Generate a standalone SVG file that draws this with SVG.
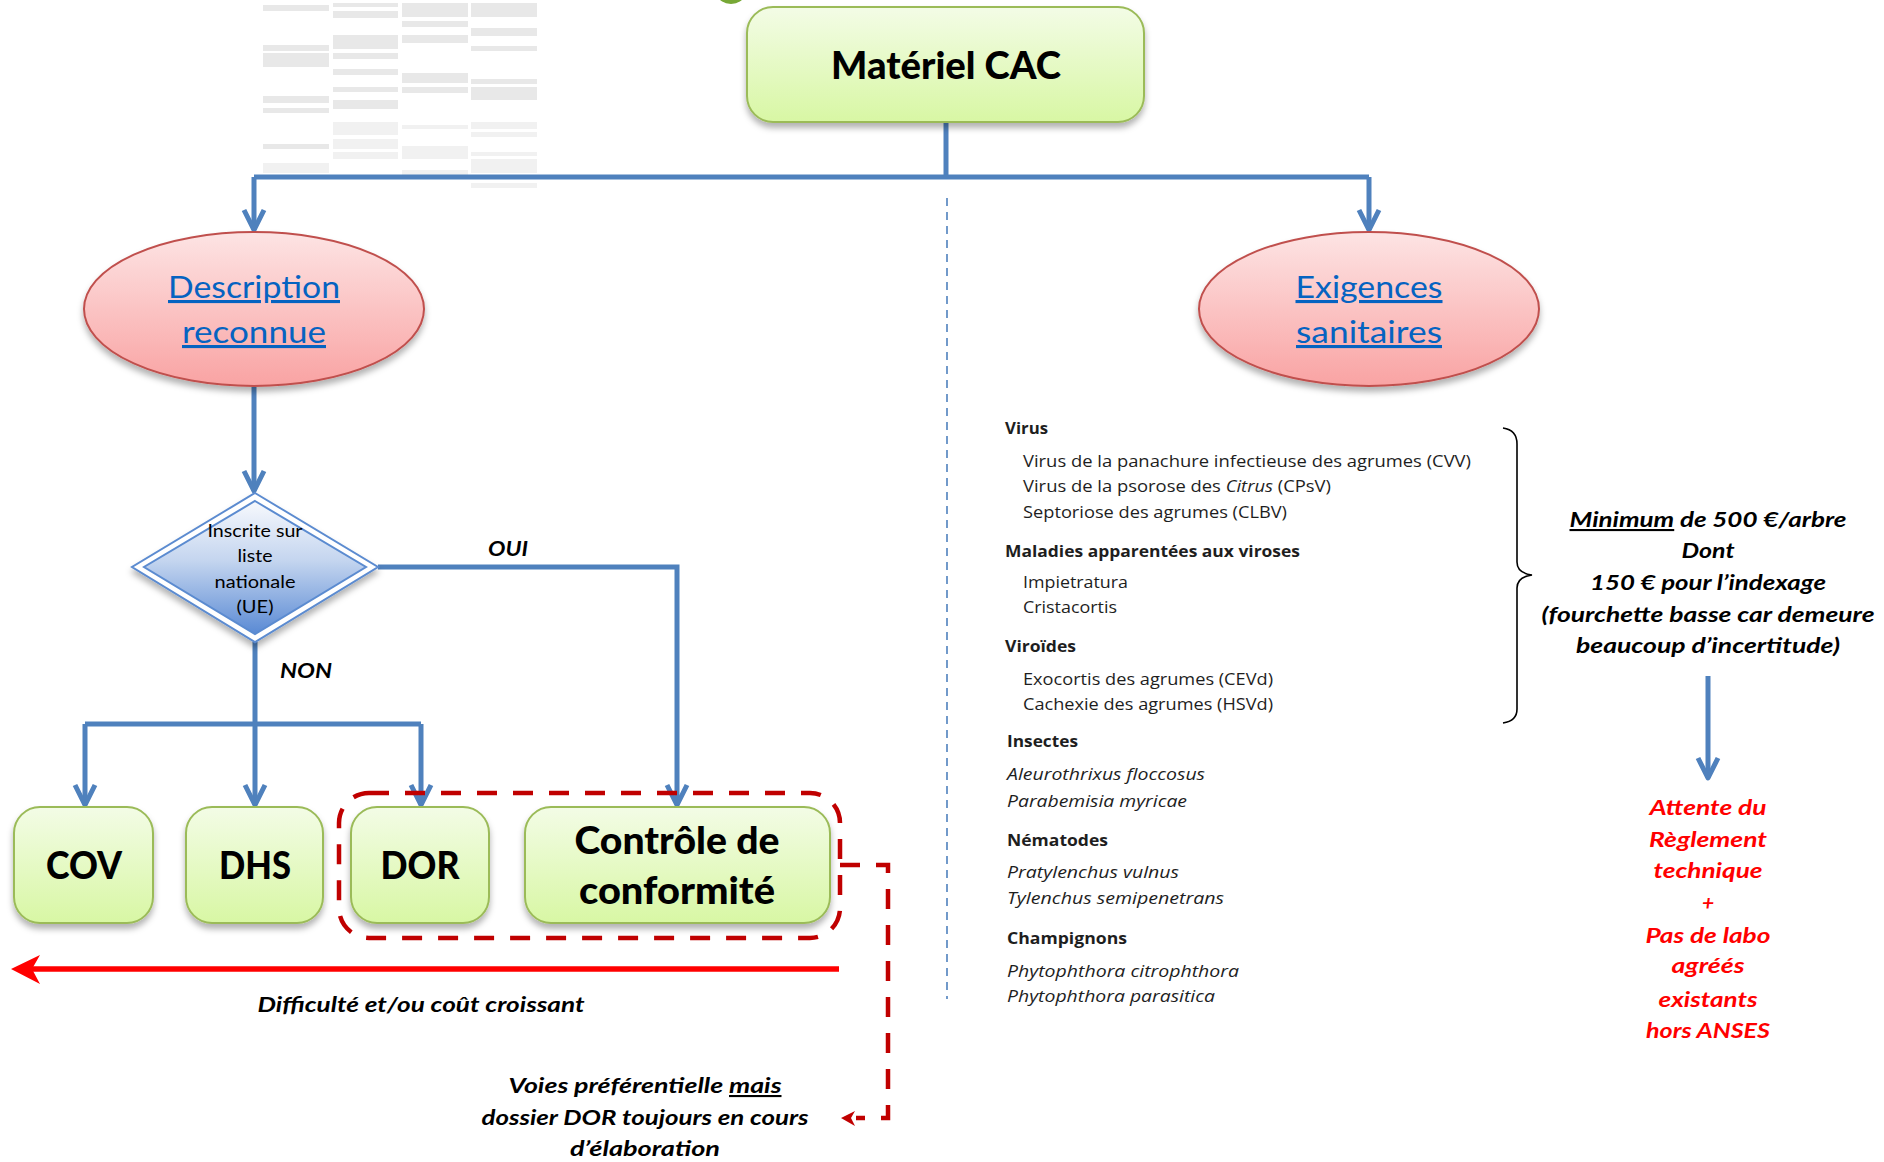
<svg xmlns="http://www.w3.org/2000/svg" width="1884" height="1162" viewBox="0 0 1884 1162">
<defs>
<style>
text{font-family:Lato,"Liberation Sans","DejaVu Sans",sans-serif}
.conn{fill:none;stroke:#4f81bd;stroke-width:5}
.tb{fill:#e8e8e8}
.tl{fill:#f1f1f1}
.box{fill:url(#gGreen);stroke:#9bbb59;stroke-width:2;filter:url(#sh)}
.ell{fill:url(#gPink);stroke:#c0504d;stroke-width:2;filter:url(#sh)}
.big{font-weight:900;font-size:37px;fill:#000;text-anchor:middle}
.link{font-size:31px;fill:#0563c1;text-anchor:middle;text-decoration:underline}
.bi{font-weight:700;font-style:italic;font-size:21px;fill:#000}
.red{font-weight:700;font-style:italic;font-size:21px;fill:#ff0000;text-anchor:middle}
.lh,.li,.lit{font-family:"Open Sans","Noto Sans","Liberation Sans",sans-serif;font-size:16.5px;fill:#1e1e1e}
.lh{font-weight:700}
.lit{font-style:italic}
</style>
<linearGradient id="gGreen" x1="0" y1="0" x2="0" y2="1">
<stop offset="0" stop-color="#f3fce6"/><stop offset="1" stop-color="#d8f7a4"/>
</linearGradient>
<linearGradient id="gPink" x1="0" y1="0" x2="0" y2="1">
<stop offset="0" stop-color="#fde4e4"/><stop offset="1" stop-color="#f9a3a3"/>
</linearGradient>
<linearGradient id="gBlue" x1="0" y1="0" x2="0" y2="1">
<stop offset="0" stop-color="#f7f9fd"/><stop offset="0.45" stop-color="#c4d5ef"/><stop offset="1" stop-color="#5a8ad4"/>
</linearGradient>
<filter id="sh" x="-20%" y="-20%" width="140%" height="150%">
<feDropShadow dx="0" dy="5" stdDeviation="3" flood-color="#000" flood-opacity="0.3"/>
</filter>
<marker id="chev" markerUnits="userSpaceOnUse" viewBox="-24 -14 28 28" refX="0" refY="0" markerWidth="28" markerHeight="28" orient="auto">
<path d="M-20,-10 L0,0 L-20,10" fill="none" stroke="#4f81bd" stroke-width="5" stroke-linejoin="round"/>
</marker>
</defs>
<rect width="1884" height="1162" fill="#fff"/>

<g id="faded-table">
<rect class="tb" x="263" y="5" width="66" height="6"/><rect class="tb" x="263" y="45" width="66" height="6"/><rect class="tb" x="263" y="53" width="66" height="14"/><rect class="tb" x="263" y="96" width="66" height="7"/><rect class="tb" x="263" y="108" width="66" height="5"/><rect class="tb" x="263" y="144" width="66" height="5"/><rect class="tl" x="263" y="163" width="66" height="10"/>
<rect class="tb" x="333" y="3" width="65" height="4"/><rect class="tb" x="333" y="11" width="65" height="7"/><rect class="tb" x="333" y="35" width="65" height="14"/><rect class="tb" x="333" y="53" width="65" height="6"/><rect class="tb" x="333" y="69" width="65" height="6"/><rect class="tb" x="333" y="87" width="65" height="5"/><rect class="tb" x="333" y="100" width="65" height="9"/><rect class="tl" x="333" y="122" width="65" height="13"/><rect class="tl" x="333" y="139" width="65" height="10"/><rect class="tl" x="333" y="152" width="65" height="7"/>
<rect class="tb" x="402" y="3" width="66" height="14"/><rect class="tb" x="402" y="21" width="66" height="6"/><rect class="tb" x="402" y="35" width="66" height="8"/><rect class="tb" x="402" y="73" width="66" height="10"/><rect class="tb" x="402" y="87" width="66" height="6"/><rect class="tl" x="402" y="125" width="66" height="4"/><rect class="tl" x="402" y="146" width="66" height="13"/><rect class="tl" x="402" y="170" width="66" height="5"/>
<rect class="tb" x="471" y="3" width="66" height="14"/><rect class="tb" x="471" y="28" width="66" height="8"/><rect class="tb" x="471" y="46" width="66" height="5"/><rect class="tb" x="471" y="79" width="66" height="5"/><rect class="tb" x="471" y="87" width="66" height="13"/><rect class="tl" x="471" y="122" width="66" height="7"/><rect class="tl" x="471" y="132" width="66" height="5"/><rect class="tl" x="471" y="152" width="66" height="4"/><rect class="tl" x="471" y="159" width="66" height="14"/><rect class="tl" x="471" y="183" width="66" height="5"/>
</g>

<ellipse id="top-blob" cx="731" cy="-5" rx="13" ry="9" fill="#77a836"/>

<g id="connectors">
<path class="conn" d="M946,122 V177"/>
<path class="conn" d="M254,177 H1369"/>
<path class="conn" d="M254,177 V230" marker-end="url(#chev)"/>
<path class="conn" d="M1369,177 V230" marker-end="url(#chev)"/>
<path class="conn" d="M254,387 V491" marker-end="url(#chev)"/>
<path class="conn" d="M378,567 H677 V805" marker-end="url(#chev)"/>
<path class="conn" d="M255,642 V805" marker-end="url(#chev)"/>
<path class="conn" d="M85,724 H421"/>
<path class="conn" d="M85,724 V805" marker-end="url(#chev)"/>
<path class="conn" d="M421,724 V805" marker-end="url(#chev)"/>
<path class="conn" d="M1708,676 V778" marker-end="url(#chev)"/>
<path d="M947,198 V999" fill="none" stroke="#4f81bd" stroke-width="1.6" stroke-dasharray="8 6"/>
<path d="M839,969 H32" fill="none" stroke="#ff0000" stroke-width="5.5"/>
<polygon points="11,969 40,955 32,969 40,984" fill="#ff0000"/>
<path d="M840,865 H888 V1118 H856" fill="none" stroke="#c00000" stroke-width="4.5" stroke-dasharray="20 16"/>
<polygon points="841,1118 855,1111 851,1118 855,1126" fill="#c00000"/>
</g>

<g id="node-materiel">
<rect class="box" x="747" y="7" width="397" height="115" rx="26"/>
<text class="big" x="946" y="79" textLength="230" lengthAdjust="spacingAndGlyphs">Matériel CAC</text>
</g>

<g id="node-description">
<ellipse class="ell" cx="254" cy="309" rx="170" ry="77"/>
<text class="link" x="254" y="298" textLength="172" lengthAdjust="spacingAndGlyphs">Description</text>
<text class="link" x="254" y="343" textLength="144" lengthAdjust="spacingAndGlyphs">reconnue</text>
</g>

<g id="node-exigences">
<ellipse class="ell" cx="1369" cy="309" rx="170" ry="77"/>
<text class="link" x="1369" y="298" textLength="147" lengthAdjust="spacingAndGlyphs">Exigences</text>
<text class="link" x="1369" y="343" textLength="146" lengthAdjust="spacingAndGlyphs">sanitaires</text>
</g>

<g id="node-decision">
<polygon points="255,493 378,567 255,642 132,567" fill="#fff" stroke="#5b8bd0" stroke-width="2" filter="url(#sh)"/>
<polygon points="255,501 366,567 255,634 144,567" fill="url(#gBlue)" stroke="#5b8bd0" stroke-width="2"/>
<g font-size="17.5" fill="#000" text-anchor="middle">
<text x="255" y="537" textLength="95" lengthAdjust="spacingAndGlyphs">Inscrite sur</text>
<text x="255" y="562" textLength="35" lengthAdjust="spacingAndGlyphs">liste</text>
<text x="255" y="588" textLength="81" lengthAdjust="spacingAndGlyphs">nationale</text>
<text x="255" y="613" textLength="37" lengthAdjust="spacingAndGlyphs">(UE)</text>
</g>
</g>

<text class="bi" x="488" y="556" textLength="40" lengthAdjust="spacingAndGlyphs">OUI</text>
<text class="bi" x="280" y="678" textLength="52" lengthAdjust="spacingAndGlyphs">NON</text>

<g id="node-cov">
<rect class="box" x="14" y="807" width="139" height="116" rx="26"/>
<text class="big" x="84" y="879" textLength="76" lengthAdjust="spacingAndGlyphs">COV</text>
</g>
<g id="node-dhs">
<rect class="box" x="186" y="807" width="137" height="116" rx="26"/>
<text class="big" x="255" y="879" textLength="72" lengthAdjust="spacingAndGlyphs">DHS</text>
</g>
<g id="node-dor">
<rect class="box" x="351" y="807" width="138" height="116" rx="26"/>
<text class="big" x="420" y="879" textLength="79" lengthAdjust="spacingAndGlyphs">DOR</text>
</g>
<g id="node-controle">
<rect class="box" x="525" y="807" width="305" height="116" rx="26"/>
<text class="big" x="677" y="854" textLength="205" lengthAdjust="spacingAndGlyphs">Contrôle de</text>
<text class="big" x="677" y="904" textLength="196" lengthAdjust="spacingAndGlyphs">conformité</text>
</g>

<rect id="group-preferential" x="339" y="793" width="501" height="145" rx="30" fill="none" stroke="#c00000" stroke-width="4.5" stroke-dasharray="20 16"/>

<text class="bi" x="421" y="1012" text-anchor="middle" textLength="327" lengthAdjust="spacingAndGlyphs">Difficulté et/ou coût croissant</text>

<g id="note-voies" text-anchor="middle">
<text class="bi" x="645" y="1093" textLength="273" lengthAdjust="spacingAndGlyphs">Voies préférentielle <tspan text-decoration="underline">mais</tspan></text>
<text class="bi" x="645" y="1125" textLength="327" lengthAdjust="spacingAndGlyphs">dossier DOR toujours en cours</text>
<text class="bi" x="645" y="1156" textLength="150" lengthAdjust="spacingAndGlyphs">d’élaboration</text>
</g>

<g id="list-sanitaire">
<text class="lh" x="1005" y="434" textLength="43" lengthAdjust="spacingAndGlyphs">Virus</text>
<text class="li" x="1023" y="467" textLength="448" lengthAdjust="spacingAndGlyphs">Virus de la panachure infectieuse des agrumes (CVV)</text>
<text class="li" x="1023" y="492" textLength="308" lengthAdjust="spacingAndGlyphs">Virus de la psorose des <tspan font-style="italic">Citrus</tspan> (CPsV)</text>
<text class="li" x="1023" y="518" textLength="264" lengthAdjust="spacingAndGlyphs">Septoriose des agrumes (CLBV)</text>
<text class="lh" x="1005" y="557" textLength="295" lengthAdjust="spacingAndGlyphs">Maladies apparentées aux viroses</text>
<text class="li" x="1023" y="588" textLength="105" lengthAdjust="spacingAndGlyphs">Impietratura</text>
<text class="li" x="1023" y="613" textLength="94" lengthAdjust="spacingAndGlyphs">Cristacortis</text>
<text class="lh" x="1005" y="652" textLength="71" lengthAdjust="spacingAndGlyphs">Viroïdes</text>
<text class="li" x="1023" y="685" textLength="250" lengthAdjust="spacingAndGlyphs">Exocortis des agrumes (CEVd)</text>
<text class="li" x="1023" y="710" textLength="250" lengthAdjust="spacingAndGlyphs">Cachexie des agrumes (HSVd)</text>
<text class="lh" x="1007" y="747" textLength="71" lengthAdjust="spacingAndGlyphs">Insectes</text>
<text class="lit" x="1007" y="780" textLength="198" lengthAdjust="spacingAndGlyphs">Aleurothrixus floccosus</text>
<text class="lit" x="1007" y="807" textLength="180" lengthAdjust="spacingAndGlyphs">Parabemisia myricae</text>
<text class="lh" x="1007" y="846" textLength="101" lengthAdjust="spacingAndGlyphs">Nématodes</text>
<text class="lit" x="1007" y="878" textLength="172" lengthAdjust="spacingAndGlyphs">Pratylenchus vulnus</text>
<text class="lit" x="1007" y="904" textLength="217" lengthAdjust="spacingAndGlyphs">Tylenchus semipenetrans</text>
<text class="lh" x="1007" y="944" textLength="120" lengthAdjust="spacingAndGlyphs">Champignons</text>
<text class="lit" x="1007" y="977" textLength="232" lengthAdjust="spacingAndGlyphs">Phytophthora citrophthora</text>
<text class="lit" x="1007" y="1002" textLength="208" lengthAdjust="spacingAndGlyphs">Phytophthora parasitica</text>
</g>

<path id="brace" d="M1503,428 Q1517,430 1517,444 V562 Q1517,573 1532,575 Q1517,577 1517,588 V709 Q1517,721 1503,723" fill="none" stroke="#000" stroke-width="1.6"/>

<g id="note-cout" text-anchor="middle">
<text class="bi" x="1708" y="527" textLength="277" lengthAdjust="spacingAndGlyphs"><tspan text-decoration="underline">Minimum</tspan> de 500 €/arbre</text>
<text class="bi" x="1708" y="558" textLength="53" lengthAdjust="spacingAndGlyphs">Dont</text>
<text class="bi" x="1708" y="590" textLength="236" lengthAdjust="spacingAndGlyphs">150 € pour l’indexage</text>
<text class="bi" x="1708" y="622" textLength="333" lengthAdjust="spacingAndGlyphs">(fourchette basse car demeure</text>
<text class="bi" x="1708" y="653" textLength="264" lengthAdjust="spacingAndGlyphs">beaucoup d’incertitude)</text>
</g>

<g id="note-attente">
<text class="red" x="1708" y="815" textLength="117" lengthAdjust="spacingAndGlyphs">Attente du</text>
<text class="red" x="1708" y="847" textLength="118" lengthAdjust="spacingAndGlyphs">Règlement</text>
<text class="red" x="1708" y="878" textLength="109" lengthAdjust="spacingAndGlyphs">technique</text>
<text class="red" x="1708" y="910">+</text>
<text class="red" x="1708" y="943" textLength="125" lengthAdjust="spacingAndGlyphs">Pas de labo</text>
<text class="red" x="1708" y="973" textLength="73" lengthAdjust="spacingAndGlyphs">agréés</text>
<text class="red" x="1708" y="1007" textLength="99" lengthAdjust="spacingAndGlyphs">existants</text>
<text class="red" x="1708" y="1038" textLength="124" lengthAdjust="spacingAndGlyphs">hors ANSES</text>
</g>
</svg>
